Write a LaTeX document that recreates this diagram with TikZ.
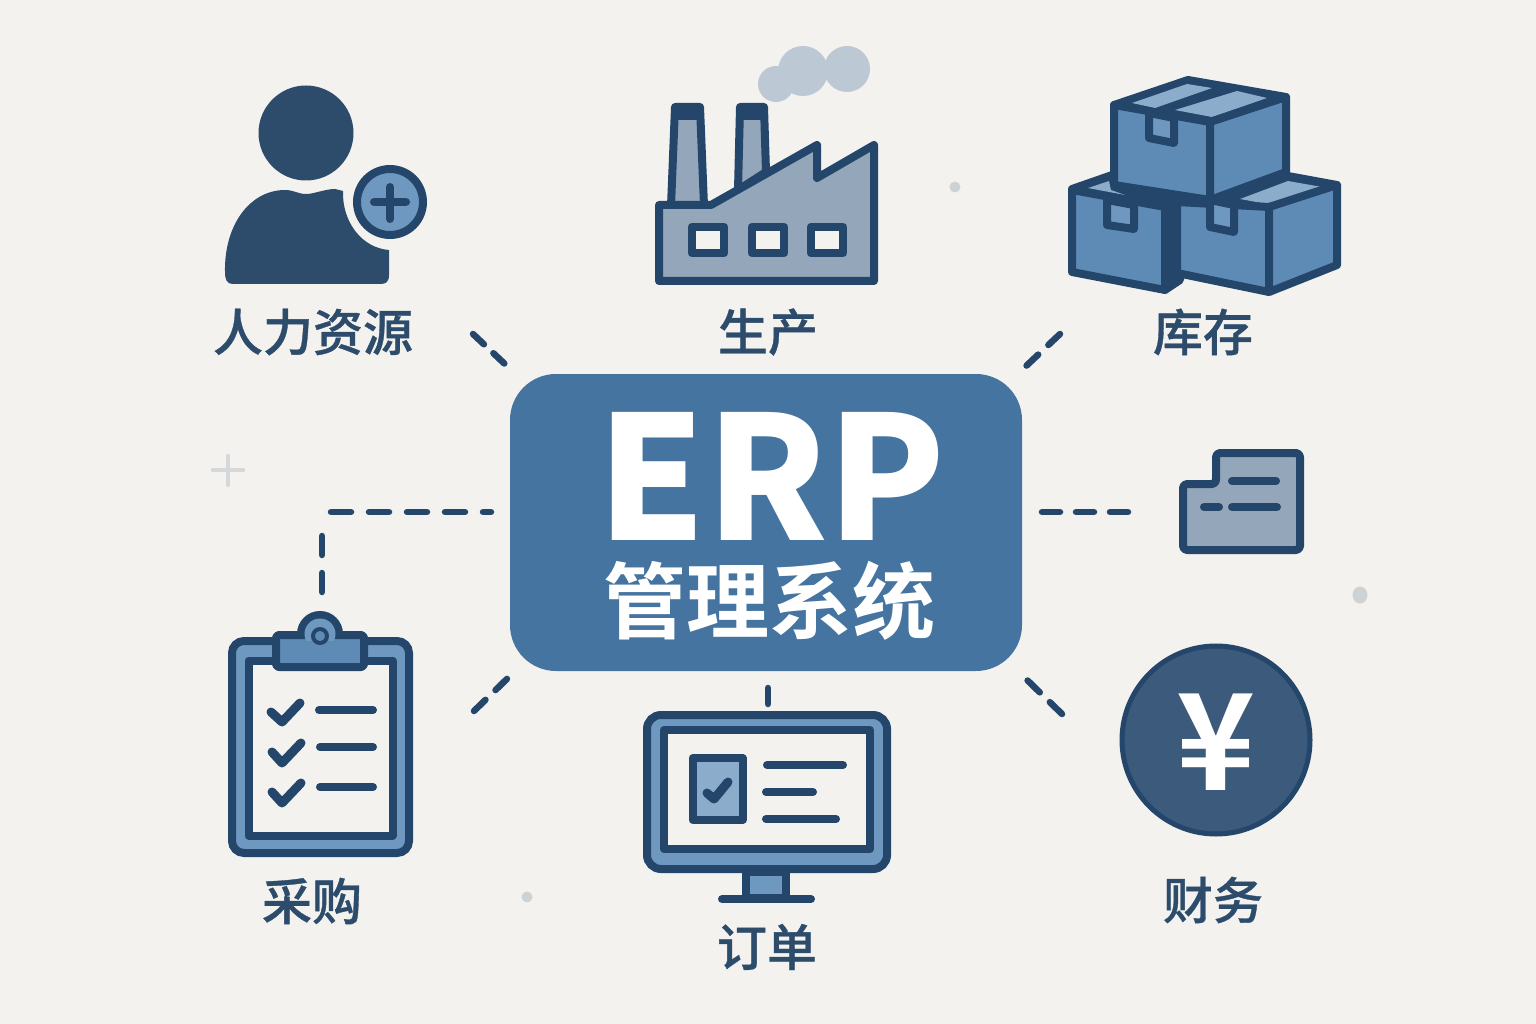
\documentclass[tikz,border=0pt]{standalone}
\usepackage{fontspec}
\newfontfamily\cjk{Noto Sans CJK SC}[BoldFont={Noto Sans CJK SC Bold}]
\newfontfamily\cjkk{Noto Sans CJK SC Black}
\newfontfamily\cjkm{Noto Sans CJK SC Medium}[FakeBold=0.7]
\definecolor{bgc}{HTML}{F4F2EE}
\definecolor{navy}{HTML}{24466A}
\definecolor{ink}{HTML}{2D4C6C}
\definecolor{boxblue}{HTML}{5E8BB6}
\definecolor{midblue}{HTML}{6F98C0}
\definecolor{panel}{HTML}{8CACCB}
\definecolor{erpblue}{HTML}{44749F}
\definecolor{steel}{HTML}{94A6B9}
\definecolor{smoke}{HTML}{BCC8D4}
\definecolor{yenc}{HTML}{3C5A7B}
\definecolor{deco}{HTML}{CDD2D5}
\tikzset{
 ic/.style={draw=navy,line width=8pt,line join=round},
 stk/.style={draw=navy,line width=8pt,line cap=round,line join=round},
 dashc/.style={draw=navy,line width=6.5pt,line cap=round},
 lab/.style={text=ink,inner sep=0pt,font=\cjkm\fontsize{50}{50}\selectfont},
 crate/.style={ic,fill=boxblue},
 tape/.style={ic,fill=midblue},
}
\begin{document}
\begin{tikzpicture}[x=1pt,y=-1pt]
\useasboundingbox (0,0) rectangle (1536,1024);
\fill[bgc] (0,0) rectangle (1536,1024);
% decoration
\fill[deco] (955,187) circle (5.5);
\fill[deco] (1360,595) ellipse (7.5 and 8.5);
\fill[deco] (527,897) circle (5.5);
\draw[deco!80!bgc,line width=4.5pt,line cap=round] (213,470)--(243,470) (228,456)--(228,485);
% central node
\node[name=erp,draw=none,fill=erpblue,rounded corners=46pt,minimum width=512pt,minimum height=297pt,inner sep=0pt] at (766,522.5) {};
\node[name=erptitle,text=white,inner sep=0pt,font=\cjkk\fontsize{172}{172}\selectfont] at (772,476) {ERP};
\node[name=erpsub,text=white,inner sep=0pt,font=\cjk\bfseries\fontsize{83}{83}\selectfont] at (769,601) {管理系统};
% person
\fill[ink] (306,133) circle (47.5);
\fill[ink] (225,272) .. controls (224,225) and (250,190) .. (285,190)
 .. controls (294,190) and (298,194) .. (306,194)
 .. controls (314,194) and (325,189) .. (335,189)
 -- (343,191) .. controls (342,222) and (362,248) .. (389,250)
 -- (389,275) .. controls (389,282) and (386,284) .. (380,284) -- (233,284)
 .. controls (227,284) and (225,280) .. (225,272) -- cycle;
\draw[navy,line width=8pt,fill=midblue] (390,202) circle (33);
\draw[navy,line width=8pt,line cap=round] (374,202)--(406,202) (390,187)--(390,219);
% factory
\fill[smoke] (776,84) circle (18) (803,71) circle (25) (847,69) circle (23);
\draw[ic,fill=steel] (675,107)--(700,107)--(704,206)--(671,206)--cycle;
\fill[navy] (674,107)--(700,107)--(701,120)--(674,120)--cycle;
\draw[ic,fill=steel] (740,107)--(764,107)--(766,172)--(738,190)--cycle;
\fill[navy] (740,107)--(764,107)--(765,120)--(740,120)--cycle;
\draw[ic,fill=steel] (659,205)--(711,205)--(817,145)--(817,178)--(874,145)--(874,281)--(659,281)--cycle;
\foreach \wx in {692,752,811}{\draw[navy,line width=8.5pt,line join=round,fill=bgc] (\wx,227) rectangle (\wx+32,253);}
% crates
\draw[ic,fill=navy] (1072,189)--(1115,174)--(1180,190)--(1167,207)--cycle;
\fill[panel] (1088,188)--(1109,181)--(1111,190)--(1125,195)--cycle;
\draw[crate] (1072,190)--(1165,207)--(1165,290)--(1072,272)--cycle;
\draw[ic,fill=navy] (1165,207)--(1180,203)--(1180,280)--(1165,290)--cycle;
\draw[tape] (1107,200)--(1134,205)--(1134,229)--(1107,225)--cycle;
\draw[ic,fill=navy] (1177,202)--(1288,176)--(1337,185)--(1269,207)--cycle;
\fill[panel] (1240,199)--(1288,181)--(1322,187)--(1267,204)--cycle;
\draw[crate] (1177,202)--(1269,207)--(1269,292)--(1177,273)--cycle;
\draw[crate] (1269,207)--(1337,185)--(1337,265)--(1269,292)--cycle;
\draw[tape] (1210,200)--(1234,205)--(1234,232)--(1210,227)--cycle;
\draw[ic,fill=navy] (1114,105)--(1188,80)--(1286,97)--(1210,122)--cycle;
\fill[panel] (1132,103)--(1187,84)--(1212,88)--(1155,108)--cycle;
\fill[panel] (1175,110)--(1237,91)--(1267,98)--(1212,117)--cycle;
\draw[crate] (1114,105)--(1210,122)--(1210,200)--(1114,185)--cycle;
\draw[crate] (1210,122)--(1286,97)--(1286,172)--(1210,200)--cycle;
\draw[tape] (1149,113)--(1174,118)--(1174,143)--(1149,138)--cycle;
% folder
\draw[ic,fill=steel,rounded corners=4pt] (1183,484)--(1216,484)--(1216,453)--(1300,453)--(1300,550)--(1183,550)--cycle;
\draw[stk] (1232,481)--(1276,481) (1204,507)--(1219,507) (1232,507)--(1277,507);
% yen
\draw[navy,line width=5pt,fill=yenc] (1216,740) circle (94);
\node[name=yen,text=white,inner sep=0pt,font=\cjk\bfseries\fontsize{134}{134}\selectfont] at (1216,742) {¥};
% clipboard
\draw[navy,line width=8pt,fill=midblue,rounded corners=12pt] (232,641) rectangle (409,853);
\draw[ic,fill=bgc] (248.5,660.5) rectangle (392.5,835.5);
\draw[navy,line width=8pt] (320,634) circle (19);
\draw[navy,line width=8pt,fill=boxblue,rounded corners=3pt,line join=round] (276,635) rectangle (364,667);
\begin{scope}
\clip (300,610) rectangle (340,640);
\fill[midblue] (320,634) circle (15.5);
\end{scope}
\draw[navy,line width=4pt,fill=boxblue] (320,636) circle (7);
\draw[navy,line width=9pt,line cap=round,line join=round]
 (271,712)--(282,722)--(300,703) (272,752)--(282,763)--(301,743) (272,792)--(282,803)--(301,783);
\draw[navy,line width=8pt,line cap=round] (319,710)--(373,710) (320,747)--(373,747) (320,787)--(373,787);
% monitor
\draw[ic,fill=midblue] (745.5,872)--(785.5,872)--(785.5,898)--(745.5,898)--cycle;
\draw[navy,line width=8pt,line cap=round] (722,899)--(811,899);
\draw[navy,line width=8pt,fill=midblue,rounded corners=14pt] (647,715) rectangle (887,869);
\draw[ic,fill=bgc] (664,730) rectangle (870,849);
\draw[ic,fill=panel] (692.5,758) rectangle (742.5,820);
\draw[navy,line width=9pt,line cap=round,line join=round] (707,793)--(714,799)--(728,782);
\draw[stk] (767,765)--(843,765) (766,792)--(813,792) (766,819)--(836,819);
% labels
\node[name=l1,lab] at (313,332) {人力资源};
\node[name=l2,lab] at (768,332) {生产};
\node[name=l3,lab] at (1203,332) {库存};
\node[name=l4,lab] at (312,901) {采购};
\node[name=l5,lab] at (767,947) {订单};
\node[name=l6,lab] at (1213,900) {财务};
% connectors
\coordinate (ca1) at (473,334); \coordinate (ca2) at (508,367);
\coordinate (cb1) at (1060,334); \coordinate (cb2) at (1024,368);
\coordinate (cc1) at (474,711); \coordinate (cc2) at (511,675);
\coordinate (cd1) at (1062,714); \coordinate (cd2) at (1024,677);
\coordinate (ce1) at (1042,512); \coordinate (ce2) at (1132,512);
\coordinate (cf1) at (322,592); \coordinate (cf2) at (322,535);
\coordinate (cg1) at (331,512); \coordinate (cg2) at (491,512);
\coordinate (ch1) at (768,688); \coordinate (ch2) at (768,704);
\draw[dashc,dash pattern=on 15pt off 13pt] (ca1)--(ca2);
\draw[dashc,dash pattern=on 16pt off 14pt] (cb1)--(cb2);
\draw[dashc,dash pattern=on 16pt off 14pt] (cc1)--(cc2);
\draw[dashc,dash pattern=on 17pt off 14pt] (cd1)--(cd2);
\draw[dashc,dash pattern=on 18pt off 16pt] (ce1)--(ce2);
\draw[dashc,dash pattern=on 19pt off 18pt] (cf1)--(cf2);
\draw[dashc,dash pattern=on 20pt off 18pt] (cg1)--(cg2);
\draw[dashc] (ch1)--(ch2);
\end{tikzpicture}
\end{document}
